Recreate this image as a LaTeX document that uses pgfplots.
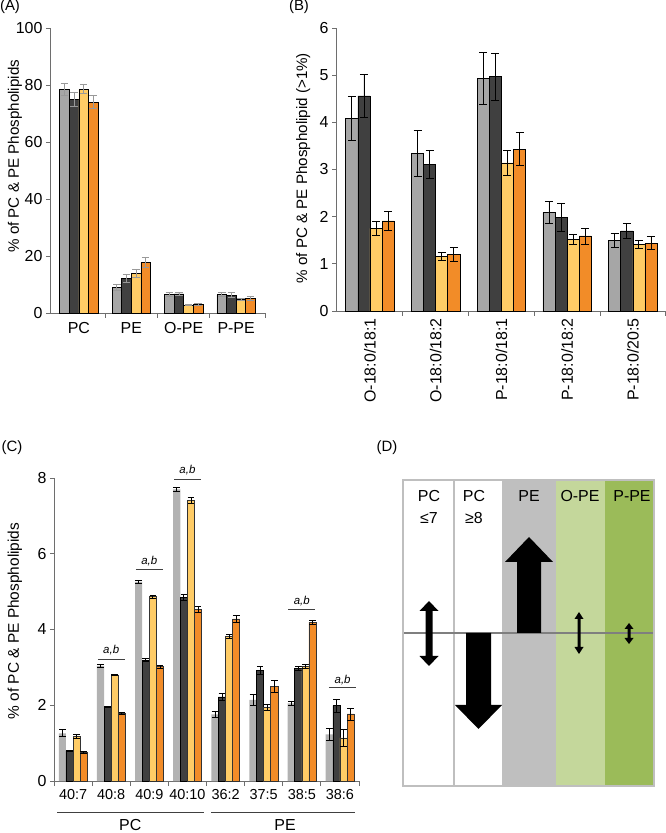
\documentclass[border=0pt]{standalone}
\usepackage{fontspec}
\setmainfont{Liberation Sans}
\usepackage{pgfplots}
\pgfplotsset{compat=1.18}
\definecolor{cgray}{RGB}{166,166,166}
\definecolor{cdark}{RGB}{64,64,64}
\definecolor{cyel}{RGB}{255,204,102}
\definecolor{corg}{RGB}{242,140,40}
\definecolor{cgrayC}{RGB}{178,178,178}
\definecolor{axgray}{RGB}{110,110,110}
\definecolor{dgray}{RGB}{191,191,191}
\definecolor{dlgreen}{RGB}{196,215,155}
\definecolor{dgreen}{RGB}{155,187,89}
\definecolor{dline}{RGB}{127,127,127}
\newcommand{\fs}[1]{\fontsize{#1}{#1}\selectfont}
\pgfplotsset{
  panel/.style={scale only axis, anchor=south west, axis lines=left,
    axis line style={-,draw=axgray,line width=0.9bp},
    tick style={draw=axgray,line width=0.9bp}, tick align=outside,
    major tick length=4bp, minor tick length=5bp, major x tick style={draw=none},
    ybar, ymin=0, clip=false, /pgf/number format/assume math mode=true,
    yticklabel style={font=\fs{16}}, xticklabel style={font=\fs{16}},
    ylabel style={anchor=center}},
  eb/.style 2 args={error bars/.cd, y dir=both, y explicit,
    error bar style={draw=#1, line width=0.8bp},
    error mark options={rotate=90, draw=#1, line width=0.8bp, mark size=#2}},
}
\begin{document}
\begin{tikzpicture}
\path[use as bounding box] (0,0) rectangle (666bp,833bp);
\node[font=\fs{15}] at (10bp,826bp) {(A)};
\node[font=\fs{15}] at (299bp,826bp) {(B)};
\node[font=\fs{15}] at (12bp,385bp) {(C)};
\node[font=\fs{15}] at (387bp,385bp) {(D)};

% Panel A
\begin{axis}[panel, at={(50bp,520bp)}, width=215bp, height=285bp,
  xmin=-0.55, xmax=3.55, ymax=100, ytick={0,20,...,100}, bar width=9.6bp,
  xtick={0,1,2,3}, xticklabels={PC,PE,O-PE,P-PE}, minor xtick={0.5,1.5,2.5,3.55},
  xticklabel style={yshift=-2bp},
  ylabel={\% of PC \& PE Phospholipids},
  ylabel style={at={(axis description cs:-0.163,0.55)}, font=\fs{15.2}}]
\addplot[fill=cgray, draw=black, line width=0.6bp, bar shift=-14.4bp, eb={black!40}{3.8bp}] coordinates {(0,78.5)+-(0,2.2) (1,9.1)+-(0,1.1) (2,6.5)+-(0,0.6) (3,6.4)+-(0,0.7)};
\addplot[fill=cdark, draw=black, line width=0.6bp, bar shift=-4.8bp, eb={black!40}{3.8bp}] coordinates {(0,75.0)+-(0,2.5) (1,12.1)+-(0,1.5) (2,6.7)+-(0,0.7) (3,6.3)+-(0,0.9)};
\addplot[fill=cyel, draw=black, line width=0.6bp, bar shift=4.8bp, eb={black!40}{3.8bp}] coordinates {(0,78.5)+-(0,1.6) (1,13.8)+-(0,1.4) (2,2.8)+-(0,0.2) (3,4.8)+-(0,0.3)};
\addplot[fill=corg, draw=black, line width=0.6bp, bar shift=14.4bp, eb={black!40}{3.8bp}] coordinates {(0,74.0)+-(0,2.3) (1,17.8)+-(0,1.7) (2,3.0)+-(0,0.2) (3,5.1)+-(0,0.6)};
\end{axis}

% Panel B
\begin{axis}[panel, at={(336bp,522bp)}, width=329bp, height=283bp,
  xmin=-0.517, xmax=4.49, ymax=6, ytick={0,...,6}, bar width=12.1bp,
  xtick={0,...,4}, xticklabels={O-18:0/18:1,O-18:0/18:2,P-18:0/18:1,P-18:0/18:2,P-18:0/20:5},
  xticklabel style={rotate=90, anchor=east, font=\fs{16}},
  minor xtick={0.5,1.5,2.5,3.5,4.49},
  ylabel={\% of PC \& PE Phospholipid (>1\%)},
  ylabel style={at={(axis description cs:-0.100,0.505)}, font=\fs{15.2}}]
\addplot[fill=cgray, draw=black, line width=0.6bp, bar shift=-18.15bp, eb={black}{4bp}] coordinates {(0,4.08)+-(0,0.47) (1,3.34)+-(0,0.48) (2,4.93)+-(0,0.55) (3,2.09)+-(0,0.23) (4,1.49)+-(0,0.15)};
\addplot[fill=cdark, draw=black, line width=0.6bp, bar shift=-6.05bp, eb={black}{4bp}] coordinates {(0,4.56)+-(0,0.46) (1,3.11)+-(0,0.30) (2,4.97)+-(0,0.50) (3,1.99)+-(0,0.30) (4,1.70)+-(0,0.16)};
\addplot[fill=cyel, draw=black, line width=0.6bp, bar shift=6.05bp, eb={black}{4bp}] coordinates {(0,1.75)+-(0,0.15) (1,1.15)+-(0,0.085) (2,3.14)+-(0,0.26) (3,1.52)+-(0,0.10) (4,1.41)+-(0,0.09)};
\addplot[fill=corg, draw=black, line width=0.6bp, bar shift=18.15bp, eb={black}{4bp}] coordinates {(0,1.91)+-(0,0.21) (1,1.20)+-(0,0.14) (2,3.43)+-(0,0.35) (3,1.59)+-(0,0.17) (4,1.44)+-(0,0.14)};
\end{axis}

% Panel C
\begin{axis}[panel, at={(54bp,52bp)}, width=305bp, height=303bp,
  xmin=-0.5, xmax=7.5, ymax=8, ytick={0,2,...,8}, bar width=7.1bp,
  xtick={0,...,7}, xticklabels={40:7,40:8,40:9,40:10,36:2,37:5,38:5,38:6},
  xticklabel style={font=\fs{14.5}, yshift=-1bp},
  minor xtick={-0.5,0.5,1.5,2.5,3.5,4.5,5.5,6.5,7.5},
  ylabel={\% of PC \& PE Phospholipids},
  ylabel style={at={(axis description cs:-0.128,0.528)}, font=\fs{15.5}}]
\addplot[fill=cgrayC, draw=none, bar shift=-10.65bp, eb={black}{3.3bp}] coordinates {(0,1.26)+-(0,0.09) (1,3.04)+-(0,0.03) (2,5.26)+-(0,0.03) (3,7.70)+-(0,0.06) (4,1.76)+-(0,0.09) (5,2.14)+-(0,0.15) (6,2.05)+-(0,0.06) (7,1.23)+-(0,0.16)};
\addplot[fill=cdark, draw=black, line width=0.6bp, bar shift=-3.55bp, eb={black}{3.3bp}] coordinates {(0,0.80)+-(0,0.01) (1,1.95)+-(0,0.01) (2,3.19)+-(0,0.04) (3,4.85)+-(0,0.07) (4,2.22)+-(0,0.08) (5,2.92)+-(0,0.10) (6,2.97)+-(0,0.05) (7,1.99)+-(0,0.17)};
\addplot[fill=cyel, draw=black!80, line width=0.6bp, bar shift=3.55bp, eb={black}{3.3bp}] coordinates {(0,1.17)+-(0,0.05) (1,2.80)+-(0,0.01) (2,4.87)+-(0,0.04) (3,7.40)+-(0,0.08) (4,3.82)+-(0,0.05) (5,1.94)+-(0,0.07) (6,3.03)+-(0,0.05) (7,1.14)+-(0,0.22)};
\addplot[fill=corg, draw=black!80, line width=0.6bp, bar shift=10.65bp, eb={black}{3.3bp}] coordinates {(0,0.76)+-(0,0.03) (1,1.79)+-(0,0.02) (2,3.02)+-(0,0.04) (3,4.53)+-(0,0.07) (4,4.28)+-(0,0.08) (5,2.50)+-(0,0.16) (6,4.19)+-(0,0.06) (7,1.77)+-(0,0.16)};
% significance marks
\draw[black!75, line width=0.8bp] (axis cs:0.65,3.22) -- (axis cs:1.35,3.22);
\node[font=\fs{11.5}\itshape] at (axis cs:1,3.45) {a,b};
\draw[black!75, line width=0.8bp] (axis cs:1.65,5.58) -- (axis cs:2.35,5.58);
\node[font=\fs{11.5}\itshape] at (axis cs:2,5.81) {a,b};
\draw[black!75, line width=0.8bp] (axis cs:2.65,7.97) -- (axis cs:3.35,7.97);
\node[font=\fs{11.5}\itshape] at (axis cs:3,8.2) {a,b};
\draw[black!75, line width=0.8bp] (axis cs:5.65,4.53) -- (axis cs:6.35,4.53);
\node[font=\fs{11.5}\itshape] at (axis cs:6,4.76) {a,b};
\draw[black!75, line width=0.8bp] (axis cs:6.71,2.46) -- (axis cs:7.42,2.46);
\node[font=\fs{11.5}\itshape] at (axis cs:7.07,2.67) {a,b};
% group lines
\draw[black!75, line width=0.9bp] (axis cs:-0.42,-0.818) -- (axis cs:3.44,-0.818);
\draw[black!75, line width=0.9bp] (axis cs:3.62,-0.818) -- (axis cs:7.40,-0.818);
\node[font=\fs{16}] at (axis cs:1.5,-1.17) {PC};
\node[font=\fs{16}] at (axis cs:5.56,-1.17) {PE};
\end{axis}

% Panel D
\begin{axis}[at={(403bp,47bp)}, anchor=south west, scale only axis, width=251bp, height=306bp,
  xmin=0, xmax=251, ymin=0, ymax=306, axis lines=none, clip=false]
\addplot[fill=white, draw=none] coordinates {(0,0) (99,0) (99,306) (0,306)} --cycle;
\addplot[fill=dgray, draw=none] coordinates {(99,0) (153,0) (153,306) (99,306)} --cycle;
\addplot[fill=dlgreen, draw=none] coordinates {(153,0) (202,0) (202,306) (153,306)} --cycle;
\addplot[fill=dgreen, draw=none] coordinates {(202,0) (251,0) (251,306) (202,306)} --cycle;
\addplot[draw=dgray, line width=2.5bp] coordinates {(0,0) (251,0) (251,306) (0,306)} --cycle;
\addplot[draw=dgray, line width=2.5bp] coordinates {(51,0) (51,306)};
\addplot[draw=dline, line width=2bp] coordinates {(1,153) (250,153)};
% arrows
\addplot[fill=black, draw=none] coordinates {(26,185) (35.5,175) (29.5,175) (29.5,130) (35.5,130) (26,120) (16.5,130) (22.5,130) (22.5,175) (16.5,175)} --cycle;
\addplot[fill=black, draw=none] coordinates {(63,153) (88,153) (88,81) (99,81) (75.5,57) (52,81) (63,81)} --cycle;
\addplot[fill=black, draw=none] coordinates {(114,153) (138,153) (138,224) (150,224) (126,249) (102,224) (114,224)} --cycle;
\addplot[fill=black, draw=none] coordinates {(176,174) (180.5,167) (177.5,167) (177.5,139) (180.5,139) (176,132) (171.5,139) (174.5,139) (174.5,167) (171.5,167)} --cycle;
\addplot[fill=black, draw=none] coordinates {(226,163) (230.5,157) (227.5,157) (227.5,148) (230.5,148) (226,142) (221.5,148) (224.5,148) (224.5,157) (221.5,157)} --cycle;
\node[font=\fs{16}] at (axis cs:26,290) {PC};
\node[font=\fs{16}] at (axis cs:26,268) {≤7};
\node[font=\fs{16}] at (axis cs:71,290) {PC};
\node[font=\fs{16}] at (axis cs:71,268) {≥8};
\node[font=\fs{16}] at (axis cs:126,290) {PE};
\node[font=\fs{16}] at (axis cs:177,290) {O-PE};
\node[font=\fs{16}] at (axis cs:229,290) {P-PE};
\end{axis}
\end{tikzpicture}
\end{document}
